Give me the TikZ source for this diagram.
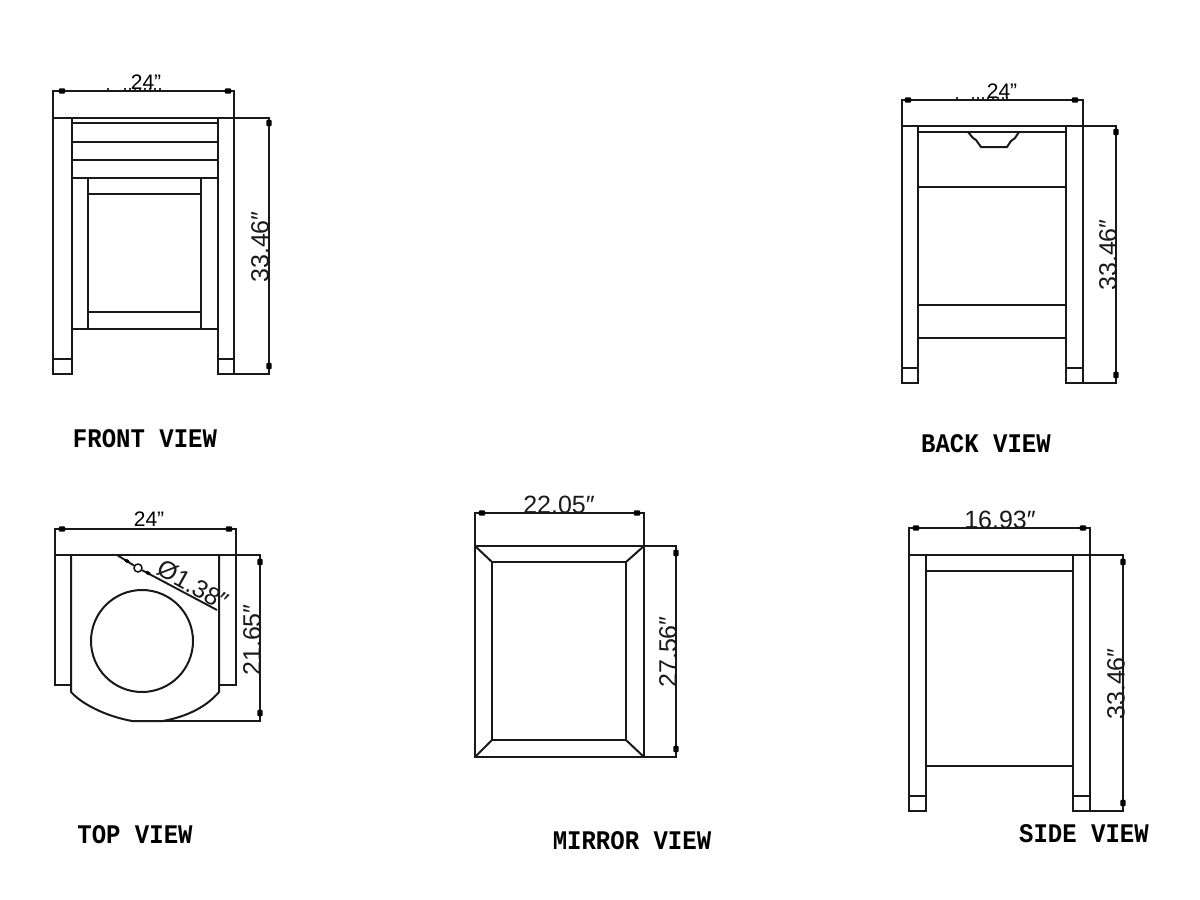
\documentclass[tikz,border=0pt]{standalone}
\usepackage{fontspec}
\setmainfont{Liberation Sans}
\newfontfamily\titlefont{Liberation Mono}
\tikzset{
  part/.style={line width=1pt,black!90},
  dimline/.style={line width=0.95pt,black!90},
  dimdot/.style={fill=black,rounded corners=0.5pt,inner sep=0pt,minimum width=3.2pt,minimum height=2.6pt},
  speck/.style={fill=black!80,inner sep=0pt,minimum width=0.8pt,minimum height=1pt},
  cadtext/.style={inner sep=0pt,font=\fontsize{12.5}{13}\selectfont,black!90},
  sizetext/.style={inner sep=0pt,font=\fontsize{10.5}{11}\selectfont},
  viewtitle/.style={inner sep=0pt,font=\titlefont\bfseries\fontsize{12}{13}\selectfont,yscale=1.12}
}
\begin{document}
\begin{tikzpicture}[x=0.5pt,y=-0.5pt]
\useasboundingbox (0,0) rectangle (1200,900);
% front view
\draw[part] (53,118) rectangle (72,374);
\draw[part] (218,118) rectangle (234,374);
\draw[part] (53,118) -- (234,118);
\foreach \y in {123,142,160,178} % rails
\draw[part] (72,\y) -- (218,\y);
\draw[part] (88,178) -- (88,329) (201,178) -- (201,329);
\draw[part] (88,194) -- (201,194) (88,312) -- (201,312) (72,329) -- (218,329);
\draw[part] (53,359) -- (72,359) (218,359) -- (234,359);
\draw[dimline] (53,118) -- (53,91) -- (234,91) -- (234,118);
\draw[dimline] (234,118) -- (269,118) -- (269,374) -- (234,374);
\foreach \x in {62,228}
\node[dimdot] at (\x,91) {};
\foreach \y in {123,366}
\node[dimdot,rotate=90] at (269,\y) {};
\foreach \x in {108,125,130,135,140,145,150,155,160} % specks under the label
\node[speck] at (\x,89) {};
\node[sizetext] (frontwidth) at (146,82) {24”};
\node[cadtext,rotate=90] (frontheight) at (260,247) {33.46″};
\node[viewtitle] (fronttitle) at (145,439) {FRONT VIEW};
% back view
\draw[part] (902,126) rectangle (918,383);
\draw[part] (1066,126) rectangle (1083,383);
\draw[part] (902,126) -- (1083,126);
\foreach \y in {132,187,305,338} % rails
\draw[part] (918,\y) -- (1066,\y);
\draw[part] (902,368) -- (918,368) (1066,368) -- (1083,368);
\draw[part] (968,132) -- (973,138) -- (976,140) -- (981,147) -- (1007,147) -- (1011,141) -- (1015,138) -- (1019,132); % edit here for the notch
\draw[dimline] (902,126) -- (902,100) -- (1083,100) -- (1083,126);
\draw[dimline] (1083,126) -- (1116,126) -- (1116,383) -- (1083,383);
\foreach \x in {908,1075}
\node[dimdot] at (\x,100) {};
\foreach \y in {132,375}
\node[dimdot,rotate=90] at (1116,\y) {};
\foreach \x in {957,973,978,983,988,993,998,1003,1007} % specks under the label
\node[speck] at (\x,98) {};
\node[sizetext] (backwidth) at (1002,91) {24”};
\node[cadtext,rotate=90] (backheight) at (1108,255) {33.46″};
\node[viewtitle] (backtitle) at (986,444) {BACK VIEW};
% top view
\draw[part] (55,555) -- (55,685) -- (71,685);
\draw[part] (236,555) -- (236,685) -- (219,685);
\draw[part] (55,555) -- (236,555);
\draw[part] (71,555) -- (71,692) .. controls (82,704) and (105,716) .. (132,721) -- (163,721) .. controls (190,716) and (208,705) .. (219,692) -- (219,555);
\draw[part] (142,641) circle (51);
\draw[dimline] (55,555) -- (55,529) -- (236,529) -- (236,555);
\draw[dimline] (236,555) -- (260,555) -- (260,721) -- (163,721);
\foreach \x in {62,229}
\node[dimdot] at (\x,529) {};
\foreach \y in {562,713}
\node[dimdot,rotate=90] at (260,\y) {};
\coordinate (leadstart) at (117,555);
\coordinate (leadend) at (217,610);
\node[draw,circle,line width=0.7pt,inner sep=0pt,minimum size=4pt] (hole) at (138,568) {};
\draw[dimline] (leadstart) -- (hole) -- (leadend);
\foreach \x/\y in {127/561,148/573} % edit here for the ticks by the hole
\node[dimdot,rotate=-29,minimum width=2.4pt,minimum height=1.6pt] at (\x,\y) {};
\node[sizetext] (topwidth) at (149,519) {24”};
\node[cadtext,rotate=-29] (holesize) at (193,585) {Ø1.38″};
\node[cadtext,rotate=90] (topdepth) at (252,640) {21.65″};
\node[viewtitle] (toptitle) at (135,835) {TOP VIEW};
% mirror view
\draw[part] (475,546) rectangle (644,757);
\draw[part] (492,562) rectangle (626,740);
\foreach \a/\b in {475/492,644/626} % edit here for the corners
{\draw[part] (\a,546) -- (\b,562);
\draw[part] (\a,757) -- (\b,740);}
\draw[dimline] (475,546) -- (475,513) -- (644,513) -- (644,546);
\draw[dimline] (644,546) -- (676,546) -- (676,757) -- (644,757);
\foreach \x in {482,637}
\node[dimdot] at (\x,513) {};
\foreach \y in {553,749}
\node[dimdot,rotate=90] at (676,\y) {};
\node[cadtext] (mirrorwidth) at (559,505) {22.05″};
\node[cadtext,rotate=90] (mirrorheight) at (668,652) {27.56″};
\node[viewtitle] (mirrortitle) at (632,841) {MIRROR VIEW};
% side view
\draw[part] (909,555) rectangle (926,811);
\draw[part] (1073,555) rectangle (1090,811);
\draw[part] (909,555) -- (1090,555);
\foreach \y in {571,766} % rails
\draw[part] (926,\y) -- (1073,\y);
\draw[part] (909,796) -- (926,796) (1073,796) -- (1090,796);
\draw[dimline] (909,555) -- (909,528) -- (1090,528) -- (1090,555);
\draw[dimline] (1090,555) -- (1123,555) -- (1123,811) -- (1090,811);
\foreach \x in {916,1083}
\node[dimdot] at (\x,528) {};
\foreach \y in {562,803}
\node[dimdot,rotate=90] at (1123,\y) {};
\node[cadtext] (sidewidth) at (1000,520) {16.93″};
\node[cadtext,rotate=90] (sideheight) at (1116,684) {33.46″};
\node[viewtitle] (sidetitle) at (1084,834) {SIDE VIEW};
\end{tikzpicture}
\end{document}
